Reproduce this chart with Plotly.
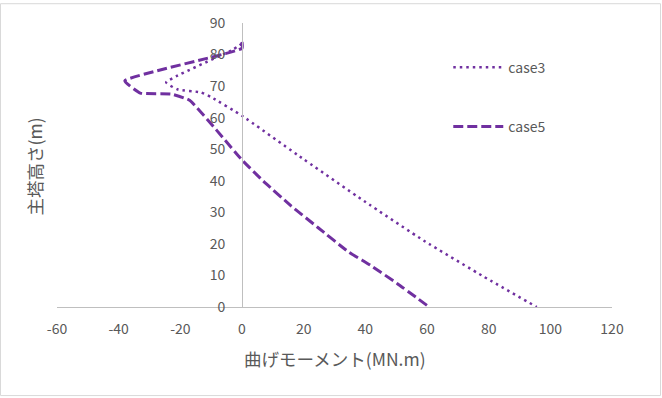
import plotly.graph_objects as go

# case3 (dotted): bending moment vs height
case3_moment = [0, -3, -24.6, -21, -13.3, -10, 0, 18, 39.7, 59, 78.6, 95.6]
case3_height = [83.5, 81.5, 71.2, 69, 68, 66.5, 60.6, 48.2, 33.5, 21, 9.5, 0]

# case5 (dashed)
case5_moment = [0, 0, -38, -33, -23, -17, 0, 7, 16, 24.6, 34.5, 41.7, 50.4, 60.7]
case5_height = [84, 82, 71.7, 67.8, 67.5, 65.5, 46.6, 39.8, 32, 25.2, 17.5, 13.2, 7.4, 0]

x_ticks = [-60, -40, -20, 0, 20, 40, 60, 80, 100, 120]
y_ticks = [0, 10, 20, 30, 40, 50, 60, 70, 80, 90]

purple = "#7030A0"
gray_text = "#595959"
font_jp = "Noto Sans CJK JP, Noto Sans, sans-serif"

fig = go.Figure()
fig.add_trace(go.Scatter(
    x=case3_moment, y=case3_height, mode="lines", name="case3",
    line=dict(color=purple, width=2.5, dash="2.5px,4px", shape="spline", smoothing=0.4),
    legend="legend", showlegend=True,
))
fig.add_trace(go.Scatter(
    x=case5_moment, y=case5_height, mode="lines", name="case5",
    line=dict(color=purple, width=3, dash="10px,4px", shape="spline", smoothing=0.4),
    legend="legend2", showlegend=True,
))

W, H = 662, 398
L, R, T, B = 57, 50, 20, 91
pw = W - L - R
ph = H - T - B

fig.update_layout(
    width=W, height=H,
    showlegend=True,
    margin=dict(l=L, r=R, t=T, b=B, pad=0),
    paper_bgcolor="white", plot_bgcolor="white",
    font=dict(family=font_jp, color=gray_text, size=14),
    xaxis=dict(
        range=[-60, 120], tickvals=x_ticks, ticktext=[str(v) for v in x_ticks],
        showgrid=False, zeroline=False, showline=True, linecolor="#BFBFBF", linewidth=1,
        ticks="", ticklabelstandoff=9, tickfont=dict(size=14, color=gray_text),
    ),
    yaxis=dict(
        range=[0, 90], tickvals=y_ticks, ticktext=[str(v) for v in y_ticks],
        anchor="free", position=60 / 180,
        showgrid=False, zeroline=False, showline=True, linecolor="#BFBFBF", linewidth=1,
        ticks="", ticklabelstandoff=14, tickfont=dict(size=14, color=gray_text),
    ),
    legend=dict(
        x=0.705, y=(307 - 65) / ph, xanchor="left", yanchor="middle",
        bgcolor="rgba(0,0,0,0)", font=dict(size=14, color=gray_text),
        itemwidth=50, visible=True,
    ),
    legend2=dict(
        x=0.705, y=(307 - 125) / ph, xanchor="left", yanchor="middle",
        bgcolor="rgba(0,0,0,0)", font=dict(size=14, color=gray_text),
        itemwidth=50, visible=True,
    ),
    annotations=[
        dict(text="曲げモーメント(MN.m)", xref="paper", yref="paper",
             x=(335 - L) / pw, y=-(359 - 307) / ph, xanchor="center", yanchor="middle",
             showarrow=False, font=dict(size=17.5, color=gray_text, family=font_jp)),
        dict(text="主塔高さ(m)", xref="paper", yref="paper",
             x=-(L - 34) / pw, y=(307 - 165) / ph, xanchor="center", yanchor="middle",
             textangle=-90, showarrow=False,
             font=dict(size=17.5, color=gray_text, family=font_jp)),
    ],
    shapes=[
        dict(type="rect", xref="paper", yref="paper",
             x0=-(L - 0.5) / pw, x1=1 + (R - 1.5) / pw,
             y0=-(B - 1.5) / ph, y1=1 + (T - 0.5) / ph,
             line=dict(color="#D9D9D9", width=1), fillcolor="rgba(0,0,0,0)", layer="below"),
    ],
)

fig.write_html(
    "out.html",
    config={"displayModeBar": False},
    post_script="document.body.style.margin='0';document.body.style.overflow='hidden';",
)
